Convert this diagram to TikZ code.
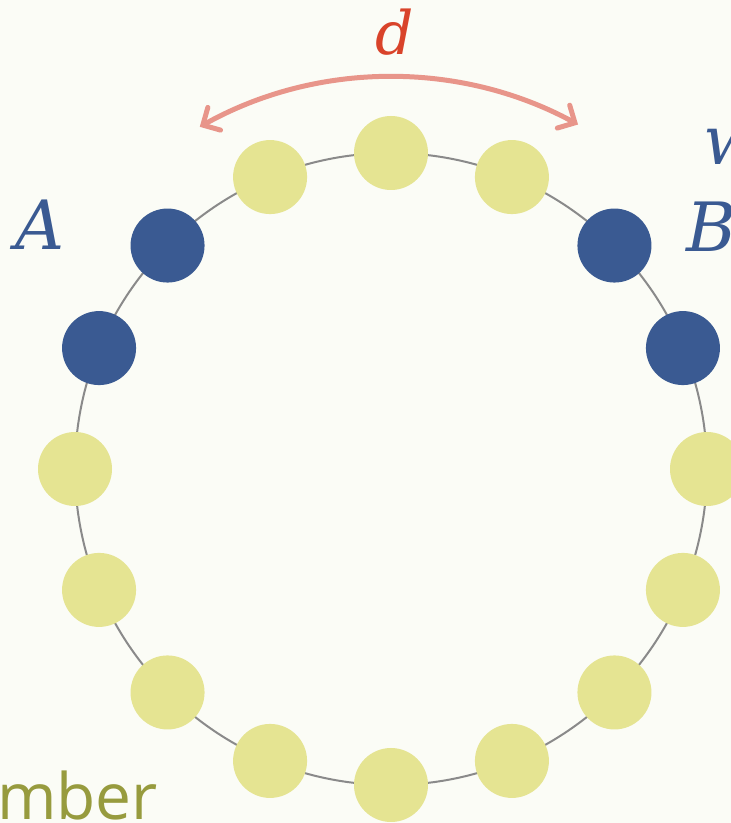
\documentclass[tikz,border=0pt]{standalone}
\usepackage{fontspec}
\setmainfont{DejaVu Serif}
\newfontfamily\labelsans{Open Sans}
\usetikzlibrary{arrows.meta}
\definecolor{bgpaper}{HTML}{FBFCF6}
\definecolor{ringgray}{HTML}{8A8A8A}
\definecolor{dotyellow}{HTML}{E5E492}
\definecolor{dotblue}{HTML}{3A5A92}
\definecolor{arcsalmon}{HTML}{E8958A}
\definecolor{labelred}{HTML}{D9432A}
\definecolor{labelolive}{HTML}{979B3E}
\tikzset{
  ringline/.style={draw=ringgray, line width=2pt},
  bead/.style={circle, minimum size=74pt, inner sep=0pt},
  beadlight/.style={bead, fill=dotyellow},
  beaddark/.style={bead, fill=dotblue},
  distarrow/.style={draw=arcsalmon, line width=5pt, line cap=round,
    {Straight Barb[length=13pt,width=26pt,line cap=round]}-{Straight Barb[length=13pt,width=26pt,line cap=round]}},
  mathlabel/.style={inner sep=0pt, font=\fontsize{68}{80}\selectfont\itshape},
}
\begin{document}
\begin{tikzpicture}[x=1pt,y=1pt]
  \useasboundingbox (0,0) rectangle (731,823);
  \clip (0,0) rectangle (731,823);
  \fill[bgpaper] (0,0) rectangle (731,823);

  % ring of sixteen beads
  \coordinate (C) at (391,354);
  \draw[ringline] (C) circle[radius=316];
  \foreach \k in {0,1,4,5,6,7,8,9,10,11,12,15}
    \node[beadlight] (bead\k) at ([shift={(90-22.5*\k:316)}]C) {};
  \foreach \k in {2,3,13,14}
    \node[beaddark] (bead\k) at ([shift={(90-22.5*\k:316)}]C) {};

  % distance arc above the ring
  \coordinate (arcL) at ([shift={(119.2:392)}]C);
  \coordinate (arcR) at ([shift={(61.5:392)}]C);
  \draw[distarrow] (arcL) arc[start angle=119.2, end angle=61.5, radius=392];

  % labels
  \node[mathlabel, text=labelred, anchor=base, font=\fontsize{60}{70}\selectfont\itshape] (labd) at (395,768) {d};
  \node[mathlabel, text=dotblue, anchor=base west] (labA) at (15,573) {A};
  \node[mathlabel, text=dotblue, anchor=base west] (labB) at (686,571) {B};
  \node[mathlabel, text=dotblue, anchor=base west] (labw) at (703,658) {w};
  \node[inner sep=0pt, text=labelolive, anchor=base west, font=\labelsans\fontsize{64}{76}\selectfont] (labword) at (-3,3) {mber};
\end{tikzpicture}
\end{document}
